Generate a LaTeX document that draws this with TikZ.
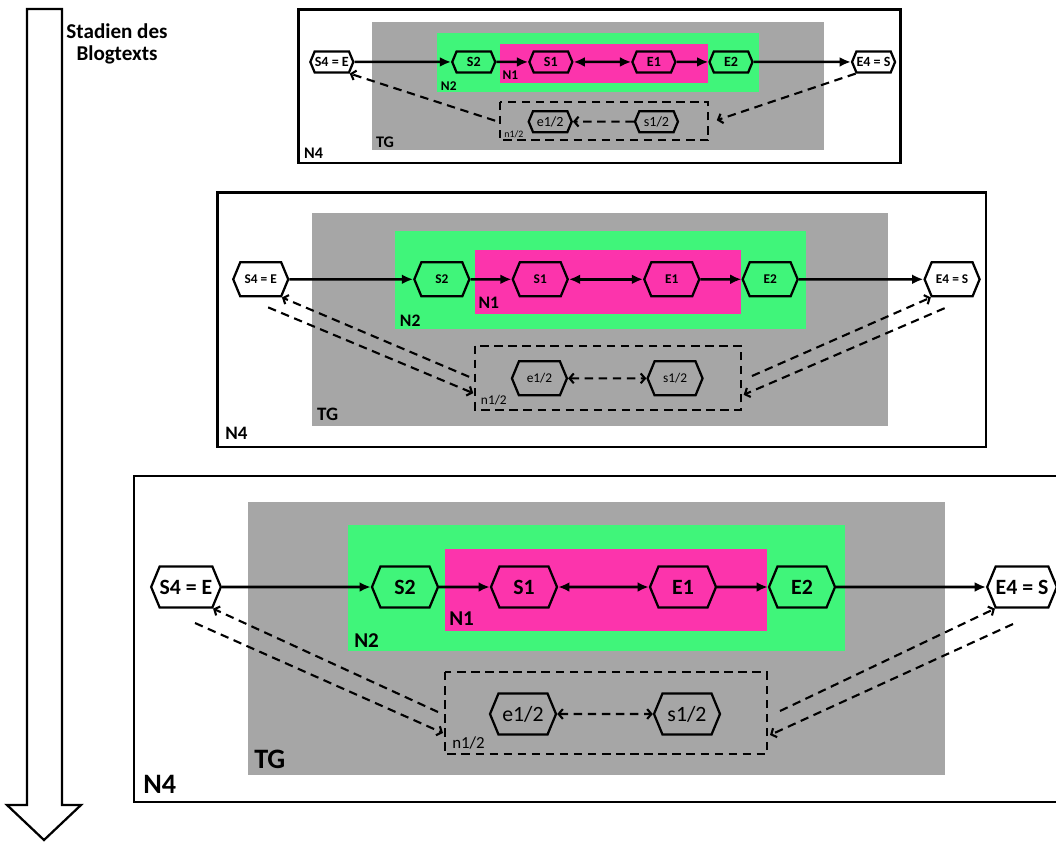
\documentclass[tikz,border=0pt]{standalone}
\usepackage{fontspec}
\setmainfont{Carlito}
\usetikzlibrary{arrows.meta,shapes.symbols}

\definecolor{tggray}{RGB}{166,166,166}
\definecolor{ngreen}{RGB}{64,245,122}
\definecolor{npink}{RGB}{252,52,172}

\tikzset{
  hex/.style={signal, signal to=east and west, signal pointer angle=135, draw, line width=1.6pt, inner sep=0pt},
  frame/.style={draw, line width=2pt},
  tag/.style={anchor=base west, inner sep=0pt},
  flow/.style={line width=1.8pt, -{Latex[length=8pt,width=7pt]}},
  flowboth/.style={line width=1.8pt, {Latex[length=8pt,width=7pt]}-{Latex[length=8pt,width=7pt]}},
  back/.style={line width=1.5pt, dash pattern=on 6pt off 4pt, -{Straight Barb[length=3pt,width=7pt]}},
  backboth/.style={line width=1.5pt, dash pattern=on 6pt off 4pt, {Straight Barb[length=3pt,width=7pt]}-{Straight Barb[length=3pt,width=7pt]}},
}

% one stage, in the units of the largest stage (origin = top left of TG)
% #1 name prefix, #2 hexagon text, #3 N4/TG, #4 N2/N1, #5 n1/2
\newcommand{\blogpanel}[5]{%
  \tikzset{hex/.append style={font=\fontsize{#2}{#2}\selectfont\bfseries}}
  % boxes
  \draw[frame] (-114,-26) rectangle (815,300);
  \fill[tggray] (0,0) rectangle (697,273);
  \fill[ngreen] (100,23) rectangle (597,149);
  \fill[npink] (197,47) rectangle (519,129);
  \draw[line width=1.5pt, dash pattern=on 6pt off 4pt] (197,170) rectangle (519,252);
  % labels
  \node[tag, font=\fontsize{#3}{#3}\selectfont\bfseries] (#1n4) at (-105,291) {N4};
  \node[tag, font=\fontsize{#3}{#3}\selectfont\bfseries] (#1tg) at (6,266) {TG};
  \node[tag, font=\fontsize{#4}{#4}\selectfont\bfseries] (#1n2) at (106,145) {N2};
  \node[tag, font=\fontsize{#4}{#4}\selectfont\bfseries] (#1n1) at (201,123) {N1};
  \node[tag, font=\fontsize{#5}{#5}\selectfont] (#1nh) at (204,246) {n1/2};
  % hexagons
  \node[hex] (#1s4) at (-62,85) {S4 = E};
  \node[hex] (#1s2) at (157,85) {S2};
  \node[hex] (#1s1) at (276,85) {S1};
  \node[hex] (#1e1) at (435,85) {E1};
  \node[hex] (#1e2) at (554,85) {E2};
  \node[hex] (#1e4) at (774,85) {E4 = S};
  \node[hex] (#1eh) at (275,212) {\mdseries e1/2};
  \node[hex] (#1sh) at (439,212) {\mdseries s1/2};
  % solid connectors
  \draw[flow] (#1s4) -- (#1s2);
  \draw[flow] (#1s2) -- (#1s1);
  \draw[flowboth] (#1s1) -- (#1e1);
  \draw[flow] (#1e1) -- (#1e2);
  \draw[flow] (#1e2) -- (#1e4);
  % free ends of the dashed connectors
  \coordinate (#1la) at (190,210);
  \coordinate (#1lb) at (-53,121);
  \coordinate (#1lc) at (195,231);
  \coordinate (#1ra) at (532,209);
  \coordinate (#1rb) at (765,122);
  \coordinate (#1rc) at (522,233);
}

\begin{document}
\begin{tikzpicture}[x=0.025cm, y=-0.025cm]
  \useasboundingbox (0,0) rectangle (1056,842);

  % time arrow
  \draw[line width=1.6pt, line join=miter] (27,9) -- (62,9) -- (62,805) -- (81,805) -- (44,840) -- (7,805) -- (27,805) -- cycle;
  \node[font=\fontsize{15}{16}\selectfont\bfseries, align=center] (stadien) at (117,44) {Stadien des\\Blogtexts};

  % first stage
  \begin{scope}[shift={(372,22)}, xscale=0.648, yscale=0.47, hex/.append style={minimum width=1.075cm, minimum height=0.525cm}]
    \blogpanel{a}{10}{11.5}{9.5}{7}
    \draw[back] (ala) -- (as4.south east);
    \draw[back] (ae4.south west) -- (ara);
    \draw[back] (ash) -- (aeh);
  \end{scope}

  % second stage
  \begin{scope}[shift={(312,213)}, xscale=0.827, yscale=0.78, hex/.append style={minimum width=1.375cm, minimum height=0.85cm}]
    \blogpanel{b}{9.5}{13.5}{12.5}{9.5}
    \draw[back] (bla) -- (bs4.south east);
    \draw[back] (blb) -- (blc);
    \draw[back] (bra) -- (be4.south west);
    \draw[back] (brb) -- (brc);
    \draw[backboth] (beh) -- (bsh);
  \end{scope}

  % third stage
  \begin{scope}[shift={(248,502)}, hex/.append style={minimum width=1.65cm, minimum height=1.025cm}]
    \blogpanel{c}{15.5}{20}{15}{12}
    \draw[back] (cla) -- (cs4.south east);
    \draw[back] (clb) -- (clc);
    \draw[back] (cra) -- (ce4.south west);
    \draw[back] (crb) -- (crc);
    \draw[backboth] (ceh) -- (csh);
  \end{scope}
\end{tikzpicture}
\end{document}
